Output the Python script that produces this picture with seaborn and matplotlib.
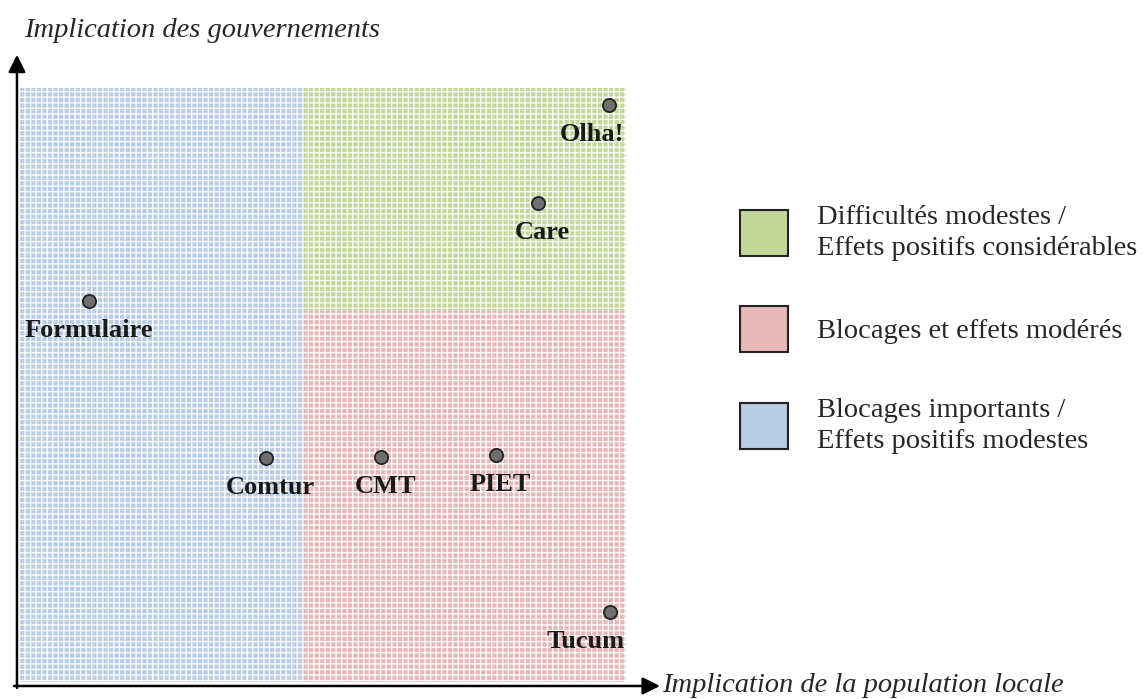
import matplotlib
matplotlib.use("Agg")
import matplotlib.pyplot as plt
from matplotlib.patches import Patch
import pandas as pd
import seaborn as sns

# donnees (echelle 0-100 sur chaque axe)
projets = ["Olha!", "Care", "Formulaire", "Comtur", "CMT", "PIET", "Tucum"]
pop_locale = [97.2, 85.5, 11.4, 40.6, 59.6, 78.5, 97.3]
gouvernements = [97.1, 80.6, 64.1, 37.7, 37.9, 38.2, 11.8]

# limites des zones
seuil_x = 46.7
seuil_y = 62.5

zones = ["Difficultés modestes /\nEffets positifs considérables",
         "Blocages et effets modérés",
         "Blocages importants /\nEffets positifs modestes"]

titre_x = "Implication de la population locale"
titre_y = "Implication des gouvernements"

# styles
couleurs = ["#c3d79b", "#e6b9b8", "#b9cde5"]
alignement = {"Olha!": "right", "Tucum": "right"}
decalage = {"Olha!": 11, "Tucum": 11, "Formulaire": 0}

df = pd.DataFrame({"projet": projets, "x": pop_locale, "y": gouvernements})

sns.set_style("white")
plt.rcParams["font.family"] = ["Liberation Serif", "DejaVu Serif"]
plt.rcParams["hatch.linewidth"] = 0.9

fig = plt.figure(figsize=(11.47, 6.99), dpi=100)
ax = fig.add_axes([20 / 1147, 17 / 699, 606 / 1147, 594 / 699])
ax.set_xlim(0, 100)
ax.set_ylim(0, 100)
ax.axis("off")

# zones (tramees)
trame = "+++"
ax.fill_between([0, seuil_x], 0, 100, facecolor=couleurs[2], edgecolor="white",
                hatch=trame, linewidth=0, zorder=0)
ax.fill_between([seuil_x, 100], seuil_y, 100, facecolor=couleurs[0], edgecolor="white",
                hatch=trame, linewidth=0, zorder=0)
ax.fill_between([seuil_x, 100], 0, seuil_y, facecolor=couleurs[1], edgecolor="white",
                hatch=trame, linewidth=0, zorder=0)

# points
sns.scatterplot(data=df, x="x", y="y", ax=ax, s=90, color="#6f6f6f",
                edgecolor="#222222", linewidth=1.3, zorder=3, legend=False)
for p, x, y in zip(projets, pop_locale, gouvernements):
    ha = alignement.get(p, "center")
    dx = decalage.get(p, 3)
    ax.annotate(p, (x, y), xytext=(dx, -21), textcoords="offset points",
                ha=ha, va="center", fontsize=19, fontweight="bold", color="#1a1a1a")

# axes avec fleches
fleche = dict(arrowstyle="-|>", mutation_scale=26, lw=1.8, color="black",
              shrinkA=0, shrinkB=0)
ax.annotate("", xy=(105.6, -0.67), xytext=(-1.0, -0.67), arrowprops=fleche,
            annotation_clip=False)
ax.annotate("", xy=(-0.5, 105.6), xytext=(-0.5, -1.0), arrowprops=fleche,
            annotation_clip=False)

ax.text(105.9, -0.67, titre_x, ha="left", va="center", fontsize=20.5,
        style="italic", clip_on=False)
ax.text(0.66, 109.6, titre_y, ha="left", va="center", fontsize=20.5,
        style="italic", clip_on=False)

# legende
poignees = [Patch(facecolor=c, edgecolor="#222222", linewidth=1.5) for c in couleurs]
leg = fig.legend(poignees, zones, loc="upper left",
                 bbox_to_anchor=(740 / 1147, 1 - 205 / 699),
                 frameon=False, fontsize=20.5, handlelength=1.67, handleheight=2.11,
                 handletextpad=1.04, labelspacing=1.6, borderpad=0, borderaxespad=0)
for t in leg.get_texts():
    t.set_linespacing(1.3)

fig.savefig("out.png", dpi=100)
